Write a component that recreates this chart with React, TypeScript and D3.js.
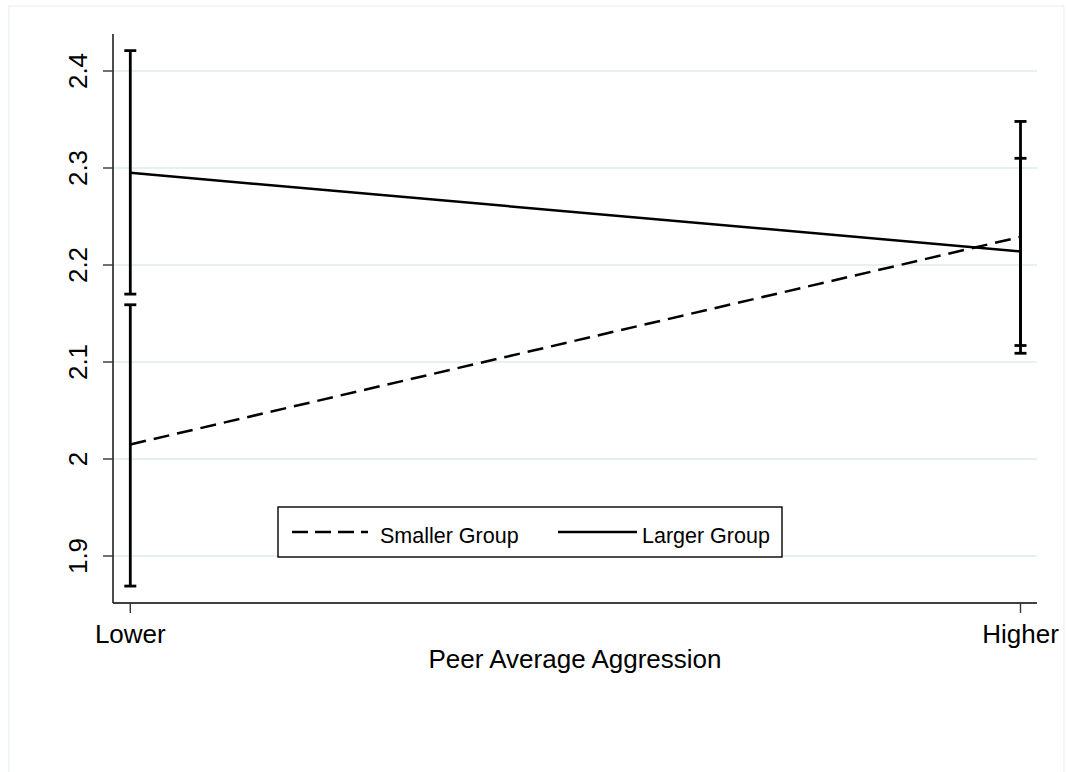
import * as d3 from 'd3';

const groups = ['Lower', 'Higher'];
const seriesNames = ['Smaller Group', 'Larger Group'];
const smallerMean = [2.015, 2.229];
const smallerLo = [1.869, 2.109];
const smallerHi = [2.159, 2.348];
const largerMean = [2.295, 2.214];
const largerLo = [2.170, 2.117];
const largerHi = [2.421, 2.310];
const yTicks = [1.9, 2, 2.1, 2.2, 2.3, 2.4];

const W = 1066;
const H = 772;
const font = 'Arial, "Liberation Sans", Helvetica, sans-serif';

export default function App() {
  const x = d3.scalePoint<string>().domain(groups).range([130.3, 1020.5]);
  const y = d3.scaleLinear().domain([1.9, 2.4]).range([556, 71]);
  const plot = { left: 113, right: 1037, top: 34, bottom: 603 };

  const line = d3
    .line<number>()
    .x((_, i) => x(groups[i]) as number)
    .y((d) => y(d));

  const series = [
    { name: seriesNames[0], mean: smallerMean, lo: smallerLo, hi: smallerHi, dash: '16 8' },
    { name: seriesNames[1], mean: largerMean, lo: largerLo, hi: largerHi, dash: null },
  ];

  const legend = { x: 278, y: 507, w: 504, h: 50 };

  return (
    <svg
      width={W}
      height={H}
      style={{ position: 'absolute', left: 0, top: 0, background: '#fff' }}
      fontFamily={font}
    >
      <rect x={9} y={6} width={1055} height={780} fill="#fff" stroke="#eaf0f0" strokeWidth={1.2} />

      {/* gridlines */}
      {yTicks.map((t) => (
        <line
          key={'g' + t}
          x1={plot.left}
          x2={plot.right}
          y1={y(t)}
          y2={y(t)}
          stroke="#e6f0f1"
          strokeWidth={1.8}
        />
      ))}

      {/* axes */}
      <line x1={plot.left} x2={plot.left} y1={plot.top} y2={plot.bottom} stroke="#000" strokeWidth={1.4} />
      <line x1={plot.left} x2={plot.right} y1={plot.bottom} y2={plot.bottom} stroke="#000" strokeWidth={1.4} />

      {yTicks.map((t) => (
        <g key={'t' + t}>
          <line x1={plot.left - 10} x2={plot.left} y1={y(t)} y2={y(t)} stroke="#333" strokeWidth={1.4} />
          <text
            transform={`translate(87,${y(t)}) rotate(-90)`}
            textAnchor="middle"
            fontSize={26}
            fill="#000"
          >
            {d3.format('~g')(t)}
          </text>
        </g>
      ))}

      {groups.map((g) => (
        <g key={g}>
          <line
            x1={x(g)}
            x2={x(g)}
            y1={plot.bottom}
            y2={plot.bottom + 10}
            stroke="#333"
            strokeWidth={1.4}
          />
          <text x={x(g)} y={643} textAnchor="middle" fontSize={26} fill="#000">
            {g}
          </text>
        </g>
      ))}

      <text x={(plot.left + plot.right) / 2} y={668} textAnchor="middle" fontSize={26} fill="#000">
        Peer Average Aggression
      </text>

      {/* error bars */}
      {series.map((s) =>
        groups.map((g, i) => {
          const cx = x(g) as number;
          return (
            <g key={s.name + g} stroke="#000" strokeWidth={2.8}>
              <line x1={cx} x2={cx} y1={y(s.lo[i])} y2={y(s.hi[i])} />
              <line x1={cx - 6} x2={cx + 6} y1={y(s.lo[i])} y2={y(s.lo[i])} />
              <line x1={cx - 6} x2={cx + 6} y1={y(s.hi[i])} y2={y(s.hi[i])} />
            </g>
          );
        })
      )}

      {/* lines */}
      {series.map((s) => (
        <path
          key={'l' + s.name}
          d={line(s.mean) ?? ''}
          fill="none"
          stroke="#000"
          strokeWidth={2.5}
          strokeDasharray={s.dash ?? undefined}
        />
      ))}

      {/* legend */}
      <rect
        x={legend.x}
        y={legend.y}
        width={legend.w}
        height={legend.h}
        fill="#fff"
        stroke="#000"
        strokeWidth={1.4}
      />
      <line x1={292} x2={368} y1={532} y2={532} stroke="#000" strokeWidth={2.6} strokeDasharray="16 7" />
      <text x={380} y={543} fontSize={21.5} fill="#000">
        {seriesNames[0]}
      </text>
      <line x1={558} x2={637} y1={532} y2={532} stroke="#000" strokeWidth={2.4} />
      <text x={642} y={543} fontSize={21.5} fill="#000">
        {seriesNames[1]}
      </text>
    </svg>
  );
}
